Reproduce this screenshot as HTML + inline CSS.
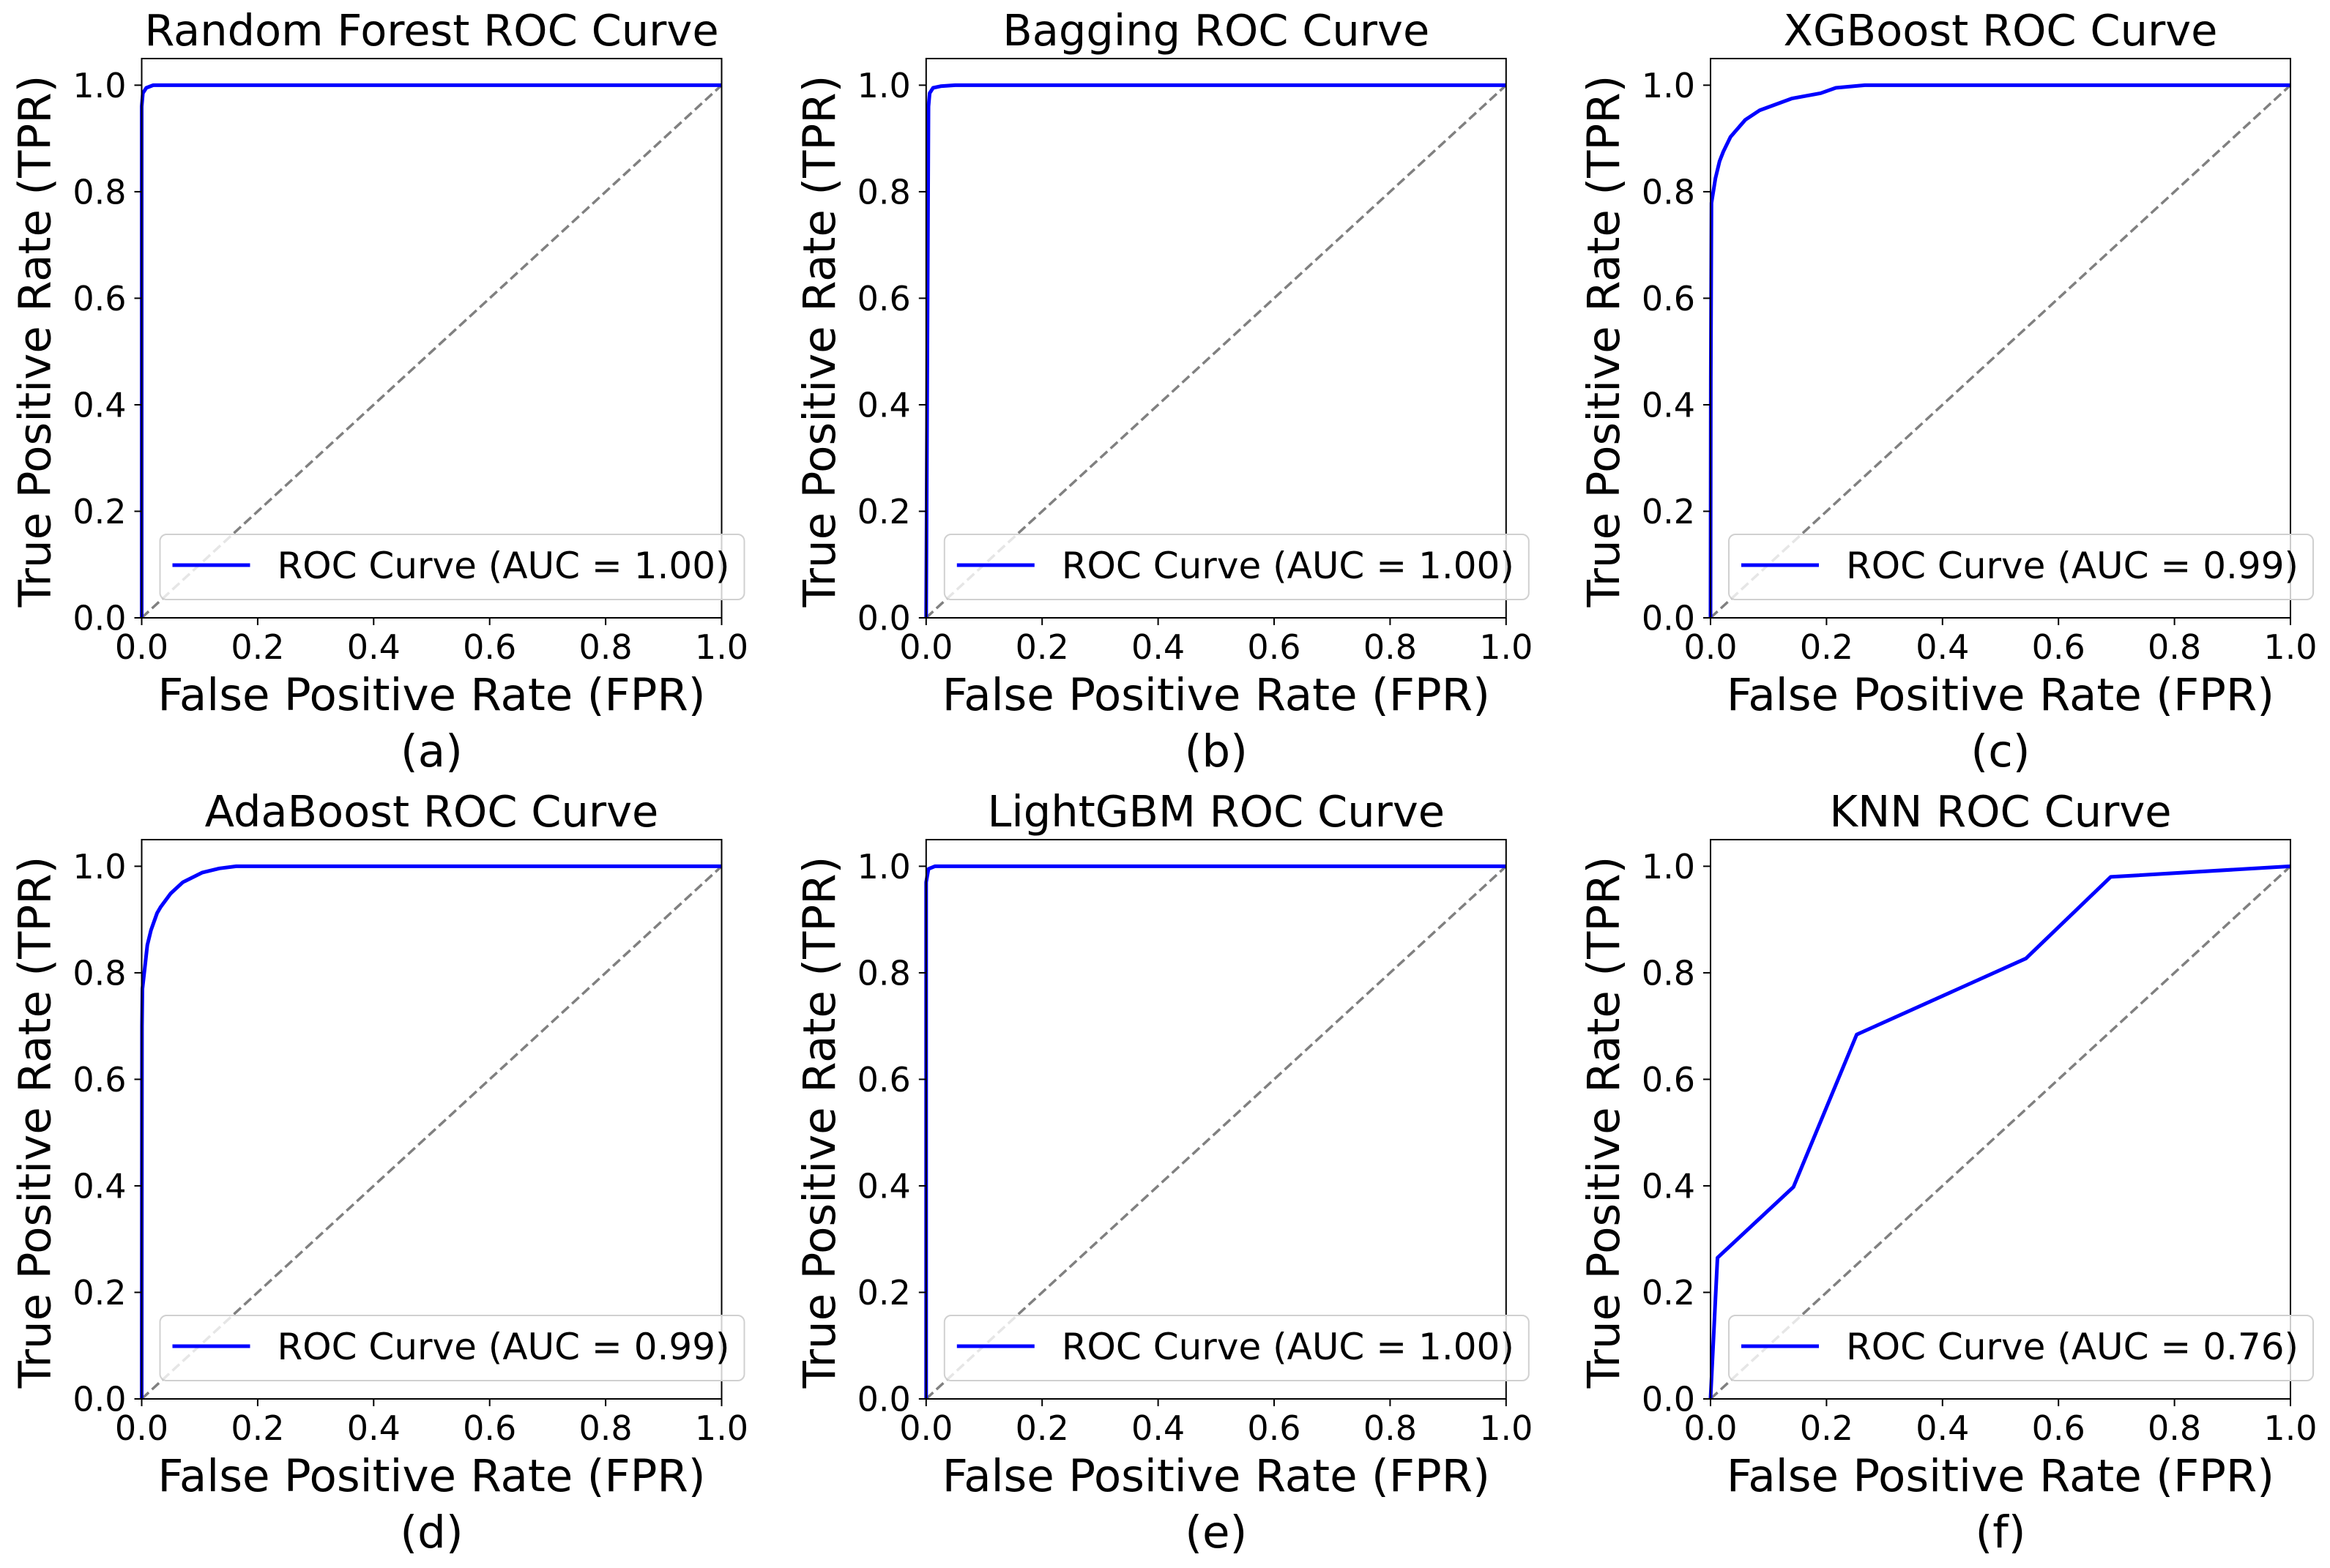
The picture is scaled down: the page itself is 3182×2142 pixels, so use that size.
<!DOCTYPE html>
<html><head><meta charset="utf-8"><title>ROC Curves</title>
<style>
html,body{margin:0;padding:0;background:#fff;}
svg{display:block;}
text{font-family:"DejaVu Sans","Liberation Sans",sans-serif;fill:#000;}
</style></head>
<body>
<svg id="fig" xmlns="http://www.w3.org/2000/svg" width="3182" height="2142" viewBox="0 0 3182 2142"></svg>
<script>
// ---- data ----
const panelTitles = ["Random Forest ROC Curve","Bagging ROC Curve","XGBoost ROC Curve","AdaBoost ROC Curve","LightGBM ROC Curve","KNN ROC Curve"];
const panelLetters = ["(a)","(b)","(c)","(d)","(e)","(f)"];
const aucLabels = ["1.00","1.00","0.99","0.99","1.00","0.76"];
const rfFpr = [0, 0, 0.002, 0.008, 0.02, 1];
const rfTpr = [0, 0.96, 0.985, 0.995, 1, 1];
const bagFpr = [0, 0.004, 0.006, 0.012, 0.025, 0.05, 1];
const bagTpr = [0, 0.96, 0.985, 0.995, 0.998, 1, 1];
const xgbFpr = [0, 0.0005, 0.0017, 0.0084, 0.0155, 0.022, 0.0345, 0.060, 0.085, 0.140, 0.190, 0.216, 0.266, 1];
const xgbTpr = [0, 0.45, 0.779, 0.825, 0.857, 0.875, 0.903, 0.935, 0.953, 0.975, 0.985, 0.995, 1, 1];
const adaFpr = [0, 0.0005, 0.0013, 0.0055, 0.0097, 0.016, 0.0265, 0.033, 0.050, 0.071, 0.104, 0.134, 0.163, 1];
const adaTpr = [0, 0.70, 0.770, 0.811, 0.852, 0.880, 0.912, 0.924, 0.949, 0.970, 0.988, 0.996, 1, 1];
const lgbFpr = [0, 0, 0.004, 0.015, 1];
const lgbTpr = [0, 0.97, 0.995, 1, 1];
const knnFpr = [0, 0.012, 0.143, 0.252, 0.544, 0.69, 1];
const knnTpr = [0, 0.265, 0.398, 0.684, 0.827, 0.98, 1];
const xTicks = [0, 0.2, 0.4, 0.6, 0.8, 1.0];
const yTicks = [0, 0.2, 0.4, 0.6, 0.8, 1.0];
const tickLabels = ["0.0","0.2","0.4","0.6","0.8","1.0"];

const seriesFpr = [rfFpr, bagFpr, xgbFpr, adaFpr, lgbFpr, knnFpr];
const seriesTpr = [rfTpr, bagTpr, xgbTpr, adaTpr, lgbTpr, knnTpr];

// ---- layout ----
const NS = "http://www.w3.org/2000/svg";
const svg = document.getElementById("fig");
const colLeft = [193.5, 1264.8, 2336];
const rowTop = [80, 1147];
const AW = 792, AH = 764;
const YMAX = 1.05;

function mk(tag, attrs, parent) {
  const e = document.createElementNS(NS, tag);
  for (const k in attrs) e.setAttribute(k, attrs[k]);
  (parent || svg).appendChild(e);
  return e;
}

for (let p = 0; p < 6; p++) {
  const L = colLeft[p % 3], T = rowTop[Math.floor(p / 3)];
  const B = T + AH, R = L + AW;
  const sx = v => L + v * AW;
  const sy = v => B - v / YMAX * AH;

  const g = mk("g", {});
  
  

  // diagonal
  const diag = mk("line", {x1: sx(0), y1: sy(0), x2: sx(1), y2: sy(1), stroke: "#808080", "stroke-width": 3.5, "stroke-dasharray": "13,6"}, g);
  
  

  // curve
  const fpr = seriesFpr[p], tpr = seriesTpr[p];
  let d = "";
  for (let i = 0; i < fpr.length; i++) d += (i ? "L" : "M") + sx(fpr[i]).toFixed(1) + "," + sy(tpr[i]).toFixed(1);
  const curve = mk("path", {d: d, fill: "none", stroke: "#0000ff", "stroke-width": 5, "stroke-linejoin": "round"}, g);
  
  

  // frame
  const frame = mk("rect", {x: L, y: T, width: AW, height: AH, fill: "none", stroke: "#000", "stroke-width": 2}, g);
  
  

  // ticks
  for (let i = 0; i < xTicks.length; i++) {
    const x = sx(xTicks[i]);
    mk("line", {x1: x, y1: B, x2: x, y2: B + 10, stroke: "#000", "stroke-width": 2}, g);
    const t = mk("text", {x: x, y: B + 56, "font-size": 46, "text-anchor": "middle"}, g);
    t.textContent = tickLabels[i];
    
    
  }
  for (let i = 0; i < yTicks.length; i++) {
    const y = sy(yTicks[i]);
    mk("line", {x1: L - 10, y1: y, x2: L, y2: y, stroke: "#000", "stroke-width": 2}, g);
    const t = mk("text", {x: L - 21, y: y + 16.5, "font-size": 46, "text-anchor": "end"}, g);
    t.textContent = tickLabels[i];
    
    
  }

  // title
  const title = mk("text", {x: L + AW / 2, y: T - 18, "font-size": 59, "text-anchor": "middle"}, g);
  title.textContent = panelTitles[p];
  
  

  // x label
  const xl = mk("text", {x: L + AW / 2, y: B + 126, "font-size": 61, "text-anchor": "middle"}, g);
  xl.textContent = "False Positive Rate (FPR)";
  
  

  // y label
  const yc = T + AH / 2 + 4;
  const ylx = L - 125;
  const yl = mk("text", {x: ylx, y: yc, "font-size": 61, "text-anchor": "middle", transform: "rotate(-90 " + ylx + " " + yc + ")"}, g);
  yl.textContent = "True Positive Rate (TPR)";
  
  

  // letter
  const lt = mk("text", {x: L + AW / 2, y: B + 203, "font-size": 61, "text-anchor": "middle"}, g);
  lt.textContent = panelLetters[p];
  
  

  // legend
  const lg = mk("g", {}, g);
  
  
  mk("rect", {x: L + 25, y: B - 114, width: 798, height: 89, rx: 9, ry: 9, fill: "#fff", "fill-opacity": 0.8, stroke: "#d0d0d0", "stroke-width": 2}, lg);
  const ll = mk("line", {x1: L + 42, y1: B - 72, x2: L + 148, y2: B - 72, stroke: "#0000ff", "stroke-width": 5}, lg);
  
  
  const ltx = mk("text", {x: L + 185, y: B - 54, "font-size": 50}, lg);
  ltx.textContent = "ROC Curve (AUC = " + aucLabels[p] + ")";
  
  
}
</script>
</body></html>
